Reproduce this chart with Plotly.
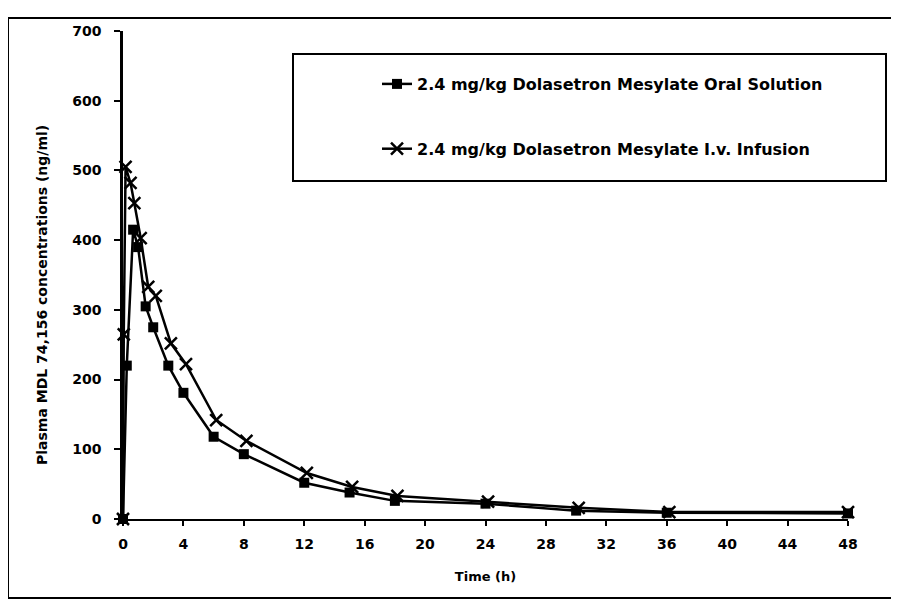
import plotly.graph_objects as go

# Data
oral_t = [0, 0.25, 0.67, 1, 1.5, 2, 3, 4, 6, 8, 12, 15, 18, 24, 30, 36, 48]
oral_c = [0, 220, 415, 390, 305, 275, 220, 181, 118, 93, 52, 38, 26, 22, 12, 9, 8]

iv_t = [0, 0.05, 0.17, 0.5, 0.75, 1.17, 1.67, 2.17, 3.17, 4.17, 6.17, 8.17, 12.17, 15.17, 18.17, 24.17, 30.17, 36.17, 48]
iv_c = [0, 265, 505, 482, 453, 403, 333, 320, 252, 222, 142, 112, 66, 46, 33, 25, 16, 10, 10]

x_ticks = [0, 4, 8, 12, 16, 20, 24, 28, 32, 36, 40, 44, 48]
y_ticks = [0, 100, 200, 300, 400, 500, 600, 700]

name_oral = "2.4 mg/kg Dolasetron Mesylate Oral Solution"
name_iv = "2.4 mg/kg Dolasetron Mesylate I.v. Infusion"
x_title = "Time (h)"
y_title = "Plasma MDL 74,156 concentrations (ng/ml)"

FONT = "DejaVu Sans"

fig = go.Figure()
fig.add_trace(go.Scatter(
    x=oral_t, y=oral_c, name=name_oral, mode="lines+markers",
    line=dict(color="black", width=2.5),
    marker=dict(symbol="square", size=10, color="black"),
    legendgroup="a", cliponaxis=False,
))
fig.add_trace(go.Scatter(
    x=iv_t, y=iv_c, name=name_iv, mode="lines+markers",
    line=dict(color="black", width=2.5),
    marker=dict(symbol="x-thin-open", size=12, color="black",
                line=dict(color="black", width=2.5)),
    legendgroup="b", cliponaxis=False,
))

# page body has an 8px default margin on every side; keep the figure inside
# the viewport (no scrollbars) and work in screen coordinates
OFF = 8
SW, SH = 899, 607
W, H = SW - 2 * OFF, SH - 2 * OFF
PL, PR, PT, PB = 123, 848, 31, 519      # plot area in screen pixels
L, T = PL - OFF, PT - OFF
R = W - (PR - OFF)
B = H - (PB - OFF)
pw, ph = PR - PL, PB - PT

def px(x):
    return (x - PL) / pw

def py(y):
    return (PB - y) / ph

bold = dict(family=FONT, color="black", weight="bold")
frame_line = dict(color="black", width=2)

fig.update_layout(
    width=W, height=H,
    margin=dict(l=L, r=R, t=T, b=B),
    paper_bgcolor="white", plot_bgcolor="white",
    font=dict(size=13, **bold),
    showlegend=True,
    legend=dict(
        x=px(377), y=py(67), xanchor="left", yanchor="top",
        bgcolor="rgba(0,0,0,0)", borderwidth=0,
        font=dict(size=16, **bold),
        traceorder="grouped", tracegroupgap=41,
    ),
    xaxis=dict(
        range=[0, 48], tickvals=x_ticks, ticktext=[str(v) for v in x_ticks],
        showgrid=False, zeroline=False, showline=True, linecolor="black", linewidth=2,
        ticks="outside", ticklen=5, tickwidth=1.5, tickcolor="black",
        ticklabelstandoff=6,
        tickfont=dict(size=14, **bold),
        title=dict(text=x_title, standoff=21, font=dict(size=13, **bold)),
    ),
    yaxis=dict(
        range=[0, 700], tickvals=y_ticks, ticktext=[str(v) for v in y_ticks],
        showgrid=False, zeroline=False, showline=True, linecolor="black", linewidth=2.5,
        ticks="outside", ticklen=6, tickwidth=1.5, tickcolor="black",
        ticklabelstandoff=10,
        tickfont=dict(size=14, **bold),
    ),
    xaxis2=dict(
        overlaying="x", matches="x", anchor="y2", tickvals=x_ticks,
        showticklabels=False, showgrid=False, zeroline=False, showline=False,
        ticks="inside", ticklen=5, tickwidth=1.5, tickcolor="black",
    ),
    yaxis2=dict(
        overlaying="y", matches="y", anchor="x2", tickvals=y_ticks,
        showticklabels=False, showgrid=False, zeroline=False, showline=False,
        ticks="inside", ticklen=6, tickwidth=1.5, tickcolor="black",
    ),
    annotations=[
        dict(text=y_title, xref="paper", yref="paper", x=px(42), y=py(295),
             textangle=-90, showarrow=False, xanchor="center", yanchor="middle",
             font=dict(size=14, **bold)),
    ],
    shapes=[
        # outer frame of the scanned figure (right side runs off the page)
        dict(type="line", xref="paper", yref="paper",
             x0=px(8), x1=px(8), y0=py(598), y1=py(18), line=frame_line),
        dict(type="line", xref="paper", yref="paper",
             x0=px(8), x1=px(905), y0=py(18), y1=py(18), line=frame_line),
        dict(type="line", xref="paper", yref="paper",
             x0=px(8), x1=px(905), y0=py(598), y1=py(598), line=frame_line),
        # legend box
        dict(type="rect", xref="paper", yref="paper",
             x0=px(293), x1=px(886), y0=py(181), y1=py(54),
             line=dict(color="black", width=2), fillcolor="rgba(0,0,0,0)"),
    ],
)

fig.write_html("out.html")
